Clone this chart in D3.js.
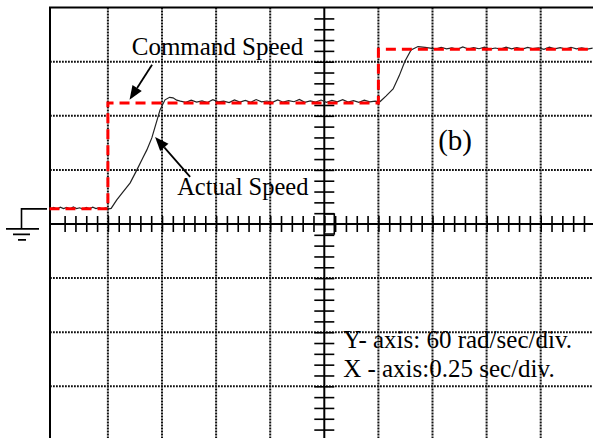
<!DOCTYPE html>
<html>
<head>
<meta charset="utf-8">
<script src="https://cdn.jsdelivr.net/npm/d3@7"></script>
<style>
    body { margin: 0; background: #fff; }
    svg { display: block; }
    text { font-family: "Liberation Serif", "Times New Roman", "DejaVu Serif", serif; fill: #000; }
    .grid line { stroke: #111; stroke-width: 2; stroke-dasharray: 1.8 1.2; }
    .frame, .axis-line { stroke: #000; stroke-width: 2; fill: none; }
    .ticks line { stroke: #000; stroke-width: 1.6; }
    .command { fill: none; stroke: #ff0000; stroke-width: 3; stroke-dasharray: 10 6; }
    .actual { fill: none; stroke: #222; stroke-width: 1.2; }
    .arrow { stroke: #000; stroke-width: 1.8; }
</style>
</head>
<body>
<div class="content"></div>
<script>
// command speed, rad/sec: steps at the given times, sec
var cmdTime = [-0.27, 0, 1.25, 2.25];
var cmdSpeed = [0, 117.5, 177, 177];

var actualSpeed = [
    [-0.265, 0], [-0.25, 1.5], [-0.235, -0.5], [-0.22, 1.8], [-0.205, 0.2], [-0.19, 1.5],
    [-0.175, -0.3], [-0.16, 2], [-0.145, 0.3], [-0.13, 1.2], [-0.115, -0.5], [-0.1, 1.6],
    [-0.085, 0], [-0.07, 1.8], [-0.055, 0.2], [-0.04, 1.4], [-0.025, -0.2], [-0.01, 1],
    [0.005, 0], [0.015, 0.5],
    [0.041, 10], [0.07, 18.9], [0.103, 28.8], [0.134, 43.2], [0.16, 55.9], [0.18, 65.4],
    [0.203, 78.7], [0.222, 94.3], [0.241, 109.8], [0.264, 120.9], [0.285, 123.7],
    [0.301, 123.1], [0.318, 120.5],
    [0.335, 119.5], [0.36, 118.2], [0.385, 120.6], [0.41, 118.5], [0.435, 119.8], [0.46, 118],
    [0.485, 121], [0.51, 118.6], [0.535, 119.4], [0.56, 117.9], [0.585, 120.8], [0.61, 118.4],
    [0.635, 120.2], [0.66, 118.1], [0.685, 121.2], [0.71, 118.7], [0.735, 119.6], [0.76, 118.2],
    [0.785, 120.9], [0.81, 118.3], [0.835, 120.1], [0.86, 118.8], [0.885, 121.3], [0.91, 118.2],
    [0.935, 119.7], [0.96, 118.5], [0.985, 120.7], [1.01, 118.1], [1.035, 120.3], [1.06, 118.6],
    [1.085, 121], [1.11, 118.4], [1.135, 119.9], [1.16, 118.2], [1.185, 120.6], [1.21, 118.7],
    [1.235, 119.5], [1.25, 119],
    [1.258, 119], [1.286, 125.3], [1.318, 133], [1.346, 147.5], [1.372, 163.4], [1.401, 176.3],
    [1.433, 180], [1.466, 179.1],
    [1.49, 178.3], [1.515, 177.1], [1.54, 179.2], [1.565, 177.4], [1.59, 178.6], [1.615, 177],
    [1.64, 179.5], [1.665, 177.3], [1.69, 178.9], [1.715, 177.6], [1.74, 179.3], [1.765, 177.2],
    [1.79, 178.4], [1.815, 177.1], [1.84, 179.4], [1.865, 177.5], [1.89, 178.8], [1.915, 177.2],
    [1.94, 179.1], [1.965, 177.6], [1.99, 178.5], [2.015, 177], [2.04, 179.3], [2.065, 177.4],
    [2.09, 178.7], [2.115, 177.3], [2.14, 179.2], [2.165, 177.5], [2.19, 178.6], [2.215, 177.2],
    [2.24, 178.2]
];

// scope settings
var secPerDiv = 0.25,
    radPerDiv = 60,
    tCentre = 1.0,      // time at the centre of the screen
    groundDiv = 0.28;   // channel zero, divisions above the centre

// labels: [text, time, speed, font size]
var labels = [
    ['Command Speed', 0.11, 170.8, 25],
    ['Actual Speed', 0.32, 15.5, 24.5],
    ['(b)', 1.526, 65.4, 29],
    ['Y- axis: 60 rad/sec/div.', 1.087, -154.2, 25],
    ['X - axis:0.25 sec/div.', 1.087, -186.3, 25]
];

// arrows: [tail time, tail speed, tip time, tip speed]
var arrows = [
    [0.204, 159.7, 0.1, 120.9],
    [0.38, 35.5, 0.218, 79.8]
];

// picture size and screen geometry
var w = 593,
    h = 438;
var cx = 324.3,
    cy = 224,
    div = 54.1,
    frameLeft = 50;

var svg = d3.select('.content').append('svg')
    .attr('width', w)
    .attr('height', h);

// x: time; yDiv: screen divisions; y: speed
var x = d3.scaleLinear()
    .domain([tCentre - 5 * secPerDiv, tCentre + 5 * secPerDiv])
    .range([cx - 5 * div, cx + 5 * div]);
var yDiv = d3.scaleLinear()
    .domain([-4, 4])
    .range([cy + 4 * div, cy - 4 * div]);
var y = d3.scaleLinear()
    .domain([(-4 - groundDiv) * radPerDiv, (4 - groundDiv) * radPerDiv])
    .range([cy + 4 * div, cy - 4 * div]);

var screenTop = yDiv(4);

// dotted grid
var grid = svg.append('g').attr('class', 'grid');
grid.selectAll('line.v')
    .data(d3.range(-4, 6).filter(function(k) { return k !== 0; }))
    .enter().append('line')
    .attr('class', 'v')
    .attr('x1', function(k) { return x(tCentre + k * secPerDiv); })
    .attr('x2', function(k) { return x(tCentre + k * secPerDiv); })
    .attr('y1', screenTop)
    .attr('y2', h);
grid.selectAll('line.h')
    .data(d3.range(-4, 4).filter(function(k) { return k !== 0; }))
    .enter().append('line')
    .attr('class', 'h')
    .attr('x1', frameLeft)
    .attr('x2', w)
    .attr('y1', function(k) { return yDiv(k); })
    .attr('y2', function(k) { return yDiv(k); });

// centre axes with minor ticks (1/5 div)
var xTicks = d3.range(-4, 46).map(function(i) { return i * secPerDiv / 5; });
var yTicks = d3.range(-20, 20).map(function(i) { return i / 5; });

[d3.axisBottom(x), d3.axisTop(x)].forEach(function(a) {
    svg.append('g').attr('class', 'ticks')
        .attr('transform', 'translate(0,' + cy + ')')
        .call(a.tickValues(xTicks).tickSize(8).tickFormat(''))
        .select('.domain').remove();
});
[d3.axisLeft(yDiv), d3.axisRight(yDiv)].forEach(function(a) {
    svg.append('g').attr('class', 'ticks')
        .attr('transform', 'translate(' + cx + ',0)')
        .call(a.tickValues(yTicks).tickSize(10).tickFormat(''))
        .select('.domain').remove();
});

svg.append('line').attr('class', 'axis-line')
    .attr('x1', frameLeft).attr('x2', w).attr('y1', cy).attr('y2', cy);
svg.append('line').attr('class', 'axis-line')
    .attr('x1', cx).attr('x2', cx).attr('y1', screenTop).attr('y2', h);

// small marker at the origin
svg.append('path').attr('class', 'frame').style('stroke-width', 1.6)
    .attr('d', 'M' + cx + ',' + (cy - 10) + 'h10v20h-10');

// frame
svg.append('path').attr('class', 'frame')
    .attr('d', 'M' + frameLeft + ',' + h + 'V' + screenTop + 'H' + w);

// ground symbol at the channel zero
var g0 = y(0);
svg.append('path').attr('class', 'frame').style('stroke-width', 1.6)
    .attr('d', 'M' + (frameLeft - 3) + ',' + g0 + 'H21.5V' + (g0 + 20) +
        'M6,' + (g0 + 20) + 'H39M13,' + (g0 + 25.5) + 'H30M18,' + (g0 + 31) + 'H26');

// actual speed
var line = d3.line()
    .x(function(d) { return x(d[0]); })
    .y(function(d) { return y(d[1]); });

svg.append('path')
    .datum(actualSpeed)
    .attr('class', 'actual')
    .attr('d', line);

// command speed
var stepLine = d3.line()
    .x(function(d, i) { return x(cmdTime[i]); })
    .y(function(d) { return y(d); })
    .curve(d3.curveStepAfter);

svg.append('path')
    .datum(cmdSpeed)
    .attr('class', 'command')
    .attr('d', stepLine);

// labels
svg.selectAll('text.label')
    .data(labels)
    .enter().append('text')
    .attr('class', 'label')
    .attr('x', function(d) { return x(d[1]); })
    .attr('y', function(d) { return y(d[2]); })
    .style('font-size', function(d) { return d[3] + 'px'; })
    .text(function(d) { return d[0]; });

// arrows
arrows.forEach(function(a) {
    var x1 = x(a[0]), y1 = y(a[1]), x2 = x(a[2]), y2 = y(a[3]);
    var ang = Math.atan2(y2 - y1, x2 - x1),
        len = 14, half = 5.5;
    var bx = x2 - len * Math.cos(ang), by = y2 - len * Math.sin(ang);
    svg.append('line').attr('class', 'arrow')
        .attr('x1', x1).attr('y1', y1).attr('x2', bx).attr('y2', by);
    svg.append('path')
        .attr('d', 'M' + x2 + ',' + y2 +
            'L' + (bx + half * Math.sin(ang)) + ',' + (by - half * Math.cos(ang)) +
            'L' + (bx - half * Math.sin(ang)) + ',' + (by + half * Math.cos(ang)) + 'Z')
        .style('fill', '#000');
});
</script>
</body>
</html>
